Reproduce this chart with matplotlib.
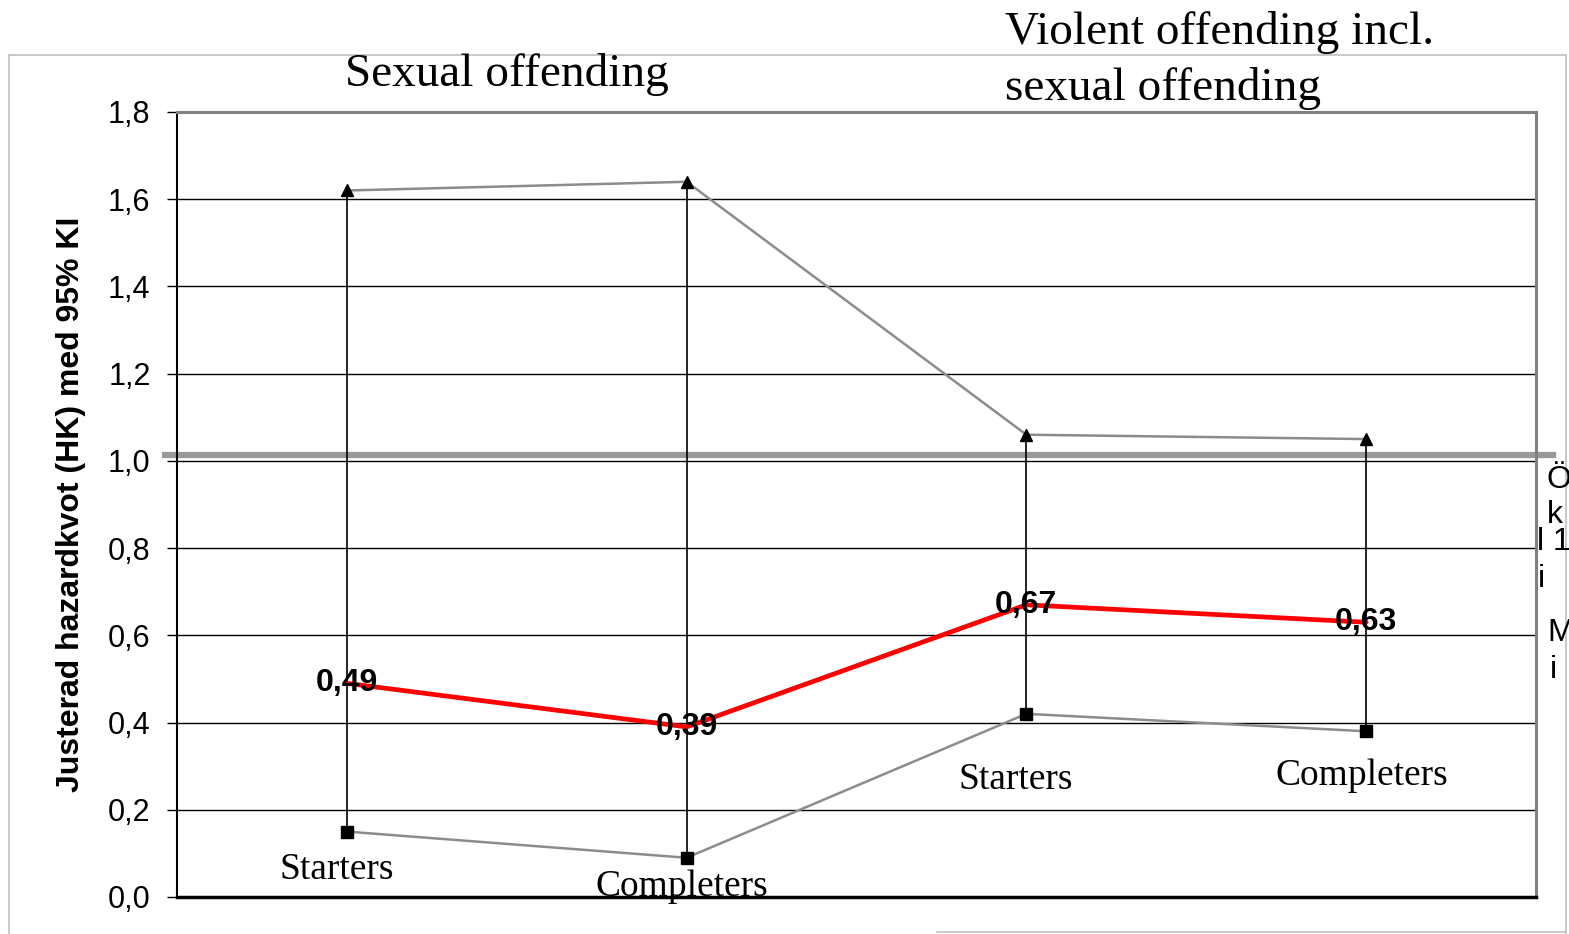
import matplotlib
matplotlib.use("Agg")
import matplotlib.pyplot as plt
from matplotlib.lines import Line2D

# values
group_lines = ["Sexual offending", "Violent offending incl.", "sexual offending"]
categories = ["Starters", "Completers", "Starters", "Completers"]
hr = [0.49, 0.39, 0.67, 0.63]
ci_upper = [1.62, 1.64, 1.06, 1.05]
ci_lower = [0.15, 0.09, 0.42, 0.38]
yticks = [0.0, 0.2, 0.4, 0.6, 0.8, 1.0, 1.2, 1.4, 1.6, 1.8]
ylabel = "Justerad hazardkvot (HK) med 95% KI"
# cut-off legend text at the right edge
legend_bits = ["Ö", "k", "l", "1", "i", "M", "i"]

W, H = 1569, 934
fig = plt.figure(figsize=(W / 100, H / 100), dpi=100)
fig.patch.set_facecolor("white")

def fx(px):
    return px / W

def fy(py):
    return 1 - py / H

ax = fig.add_axes([fx(177), fy(897), fx(1536 - 177), (897 - 112) / H])
x = list(range(len(categories)))

# high-low lines
ax.vlines(x, ci_lower, ci_upper, color="black", lw=1.2, zorder=3)
ax.plot(x, ci_upper, color="#8c8c8c", lw=1.8, marker="^", ms=9,
        mfc="black", mec="black", zorder=4)
ax.plot(x, ci_lower, color="#8c8c8c", lw=1.8, marker="s", ms=8,
        mfc="black", mec="black", zorder=4)
ax.plot(x, hr, color="#ff0000", lw=3.4, zorder=5, solid_capstyle="round")
for xi, v in zip(x, hr):
    ax.text(xi, v, f"{v:.2f}".replace(".", ","), ha="center", va="center",
            fontsize=23, fontweight="bold", family="Liberation Sans", zorder=6)

# reference line at 1
ax.axhline(1.013, xmin=-0.009, xmax=1.0125, color="#999999", lw=4.5,
           clip_on=False, zorder=2)

ax.set_xlim(-0.5, len(categories) - 0.5)
ax.set_ylim(0, 1.8)
ax.set_yticks(yticks)
ax.set_yticklabels([f"{t:.1f}".replace(".", ",") for t in yticks],
                   family="Liberation Sans", fontsize=22)
ax.set_xticks([])
ax.tick_params(axis="y", length=7, width=1, color="black", pad=12)
ax.yaxis.grid(True, color="black", lw=1)
ax.set_axisbelow(True)
ax.spines["left"].set_color("black")
ax.spines["left"].set_linewidth(1.5)
ax.spines["bottom"].set_color("black")
ax.spines["bottom"].set_linewidth(2.5)
for s in ["top", "right"]:
    ax.spines[s].set_color("#808080")
    ax.spines[s].set_linewidth(2.2)
ax.set_ylabel(ylabel, family="Liberation Sans", fontsize=23,
              fontweight="bold", labelpad=16)

# category labels under / near the points
label_pos = [(-0.03, 0.062), (0.985, 0.023), (1.97, 0.269), (2.987, 0.278)]
for cat, (lx, ly) in zip(categories, label_pos):
    ax.text(lx, ly, cat, ha="center", va="center", fontsize=27,
            family="Liberation Serif", zorder=6)

# group titles
title_pos = [(345, 75), (1005, 33), (1005, 89)]
for t, (px, py) in zip(group_lines, title_pos):
    fig.text(fx(px), fy(py), t, ha="left", va="center", fontsize=34,
             family="Liberation Serif")

# clipped legend text on the right
bits_pos = [(1547, 480), (1547, 515), (1537, 542), (1553, 542),
            (1538, 579), (1547, 633), (1550, 670)]
for t, (px, py) in zip(legend_bits, bits_pos):
    fig.text(fx(px), fy(py), t, ha="left", va="center", fontsize=23,
             family="Liberation Sans")

# outer frame lines
frame = "#c0c0c0"
fig.add_artist(Line2D([fx(9), fx(9)], [fy(55), fy(934)], color=frame, lw=1.2))
fig.add_artist(Line2D([fx(9), fx(1566)], [fy(55), fy(55)], color=frame, lw=1.2))
fig.add_artist(Line2D([fx(1566), fx(1566)], [fy(55), fy(934)], color=frame, lw=1.2))
fig.add_artist(Line2D([fx(937), fx(1566)], [fy(932), fy(932)], color=frame, lw=1.2))

fig.savefig("out.png", dpi=100)
